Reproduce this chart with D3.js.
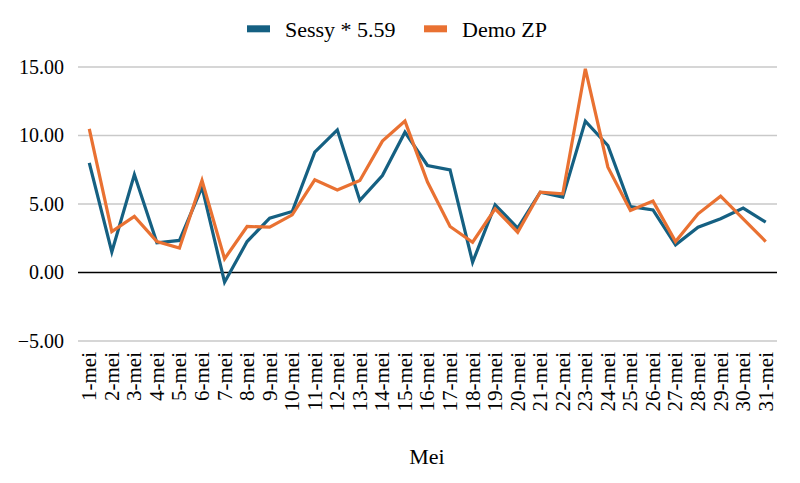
<!DOCTYPE html>
<html>
<head>
<meta charset="utf-8">
<script src="https://cdn.jsdelivr.net/npm/d3@7"></script>
</head>
<body style="margin:0">
<svg id="chart" width="800" height="483"></svg>
<script>
const categories = Array.from({length: 31}, (_, i) => `${i + 1}-mei`);
const sessy = [8.0, 1.5, 7.15, 2.17, 2.34, 6.23, -0.71, 2.26, 3.97, 4.45,
               8.78, 10.41, 5.26, 7.08, 10.24, 7.81, 7.49, 0.75, 4.94, 3.24,
               5.86, 5.5, 11.05, 9.27, 4.82, 4.57, 2.02, 3.31, 3.92, 4.7, 3.67];
const demo = [10.49, 2.99, 4.09, 2.26, 1.78, 6.72, 1.0, 3.36, 3.31, 4.21,
              6.76, 6.03, 6.72, 9.59, 11.05, 6.6, 3.36, 2.21, 4.65, 2.94,
              5.86, 5.74, 14.87, 7.69, 4.53, 5.21, 2.26, 4.28, 5.57, 3.92, 2.26];
const yTicks = [-5, 0, 5, 10, 15];
const seriesNames = ["Sessy * 5.59", "Demo ZP"];
const colors = ["#156082", "#E97132"];
const xTitle = "Mei";

const FONT = "'Liberation Serif'";
const svg = d3.select("#chart");
const margin = {left: 78, right: 23, top: 67, bottom: 142};
const W = 800, H = 483;
const x = d3.scaleBand().domain(categories).range([margin.left, W - margin.right]);
const y = d3.scaleLinear().domain([-5, 15]).range([H - margin.bottom, margin.top]);

// gridlines
svg.append("g").selectAll("line").data(yTicks.filter(d => d !== 0)).join("line")
  .attr("x1", margin.left).attr("x2", W - margin.right)
  .attr("y1", d => y(d)).attr("y2", d => y(d))
  .attr("stroke", "#c9c9c9").attr("stroke-width", 1.5);

// y axis labels
const yAxis = d3.axisLeft(y).tickValues(yTicks).tickFormat(d3.format(".2f")).tickSize(0).tickPadding(14);
const yg = svg.append("g").attr("transform", `translate(${margin.left},0)`).call(yAxis);
yg.select(".domain").remove();
yg.selectAll("text").style("font-family", FONT).style("font-size", "20px").attr("fill", "#000");

// zero line
svg.append("line")
  .attr("x1", margin.left).attr("x2", W - margin.right)
  .attr("y1", y(0)).attr("y2", y(0))
  .attr("stroke", "#000").attr("stroke-width", 1.5);

// x axis labels
const xAxis = d3.axisBottom(x).tickSize(0).tickPadding(0);
const xg = svg.append("g").attr("transform", `translate(0,${y(-5) + 11})`).call(xAxis);
xg.select(".domain").remove();
xg.selectAll("text")
  .style("font-family", FONT).style("font-size", "21px").attr("fill", "#000")
  .attr("text-anchor", "end").attr("dy", "0.33em").attr("dx", 0).attr("y", 0)
  .attr("transform", "rotate(-90)");

// lines
const line = d3.line().x((d, i) => x(categories[i]) + x.bandwidth() / 2).y(d => y(d));
[sessy, demo].forEach((s, k) => {
  svg.append("path").datum(s)
    .attr("fill", "none").attr("stroke", colors[k]).attr("stroke-width", 3.2)
    .attr("stroke-linejoin", "miter").attr("d", line);
});

// x title
svg.append("text").attr("x", 427).attr("y", 464).attr("text-anchor", "middle")
  .style("font-family", FONT).style("font-size", "22px").attr("fill", "#000").text(xTitle);

// legend
const legend = svg.append("g");
const legX = [247, 424], legTextX = [285, 462];
seriesNames.forEach((n, k) => {
  legend.append("rect").attr("x", legX[k]).attr("y", 25.3).attr("width", 23).attr("height", 7).attr("fill", colors[k]);
  legend.append("text").attr("x", legTextX[k]).attr("y", 36.5)
    .style("font-family", FONT).style("font-size", "22px").attr("fill", "#000").text(n);
});
</script>
</body>
</html>
